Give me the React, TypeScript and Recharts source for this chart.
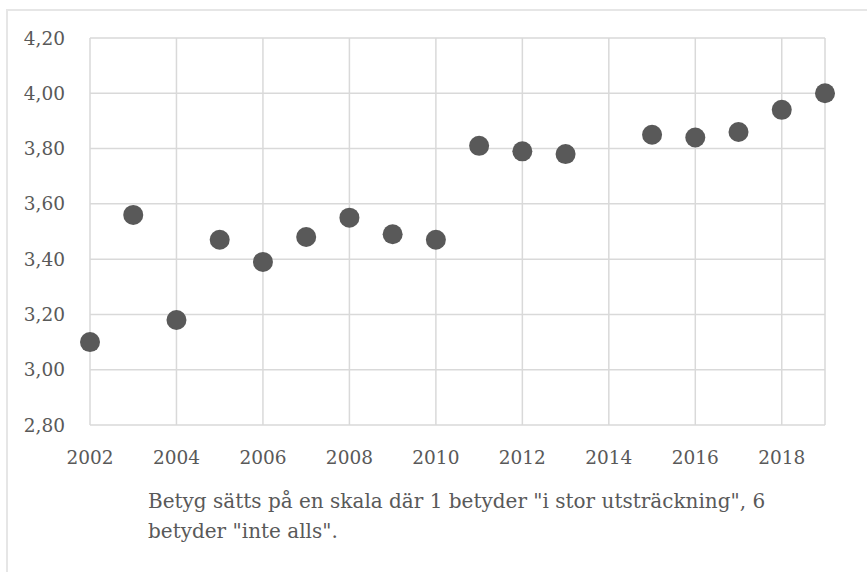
import { CartesianGrid, Scatter, ScatterChart, XAxis, YAxis } from "recharts";

const years = [2002, 2003, 2004, 2005, 2006, 2007, 2008, 2009, 2010, 2011, 2012, 2013, 2015, 2016, 2017, 2018, 2019];
const grades = [3.1, 3.56, 3.18, 3.47, 3.39, 3.48, 3.55, 3.49, 3.47, 3.81, 3.79, 3.78, 3.85, 3.84, 3.86, 3.94, 4.0];

const xTicks = [2002, 2004, 2006, 2008, 2010, 2012, 2014, 2016, 2018];
const yTicks = [2.8, 3.0, 3.2, 3.4, 3.6, 3.8, 4.0, 4.2];

const captionLines = [
  'Betyg sätts på en skala där 1 betyder "i stor utsträckning", 6',
  'betyder "inte alls".',
];

const FONT = "'DejaVu Serif', 'Liberation Serif', serif";
const TEXT = "#595959";
const GRID = "#d9d9d9";
const DOT = "#595959";

const data = years.map((year, i) => ({ year, grade: grades[i] }));

const Dot = (props: any) => <circle cx={props.cx} cy={props.cy} r={10} fill={DOT} />;

export default function App() {
  return (
    <div
      style={{
        position: "fixed",
        left: 0,
        top: 0,
        width: 867,
        height: 572,
        overflow: "hidden",
        background: "#fff",
        fontFamily: FONT,
      }}
    >
      <div
        style={{
          position: "absolute",
          left: 6,
          top: 9,
          width: 900,
          height: 600,
          borderLeft: `2px solid #e6e6e6`,
          borderTop: `2px solid #e6e6e6`,
        }}
      />
      <div style={{ position: "absolute", left: 0, top: 0 }}>
        <ScatterChart
          width={867}
          height={572}
          margin={{ top: 38, right: 42, bottom: 117, left: 30 }}
        >
          <CartesianGrid stroke={GRID} strokeWidth={1.5} />
          <XAxis
            type="number"
            dataKey="year"
            domain={[2002, 2019]}
            ticks={xTicks}
            interval={0}
            axisLine={false}
            tickLine={false}
            tickSize={0}
            tickMargin={26}
            height={30}
            tick={{ fill: TEXT, fontSize: 18.5, fontFamily: FONT }}
          />
          <YAxis
            type="number"
            dataKey="grade"
            domain={[2.8, 4.2]}
            ticks={yTicks}
            interval={0}
            width={60}
            axisLine={false}
            tickLine={false}
            tickSize={0}
            tickMargin={25}
            tickFormatter={(v: number) => v.toFixed(2).replace(".", ",")}
            tick={{ fill: TEXT, fontSize: 18.5, fontFamily: FONT }}
          />
          <Scatter data={data} shape={Dot} isAnimationActive={false} />
        </ScatterChart>
      </div>
      <svg
        width={867}
        height={572}
        style={{ position: "absolute", left: 0, top: 0, pointerEvents: "none" }}
      >
        {captionLines.map((line, i) => (
          <text
            key={i}
            x={148}
            y={508 + i * 30}
            fill={TEXT}
            fontSize={20}
            fontFamily={FONT}
          >
            {line}
          </text>
        ))}
      </svg>
    </div>
  );
}
